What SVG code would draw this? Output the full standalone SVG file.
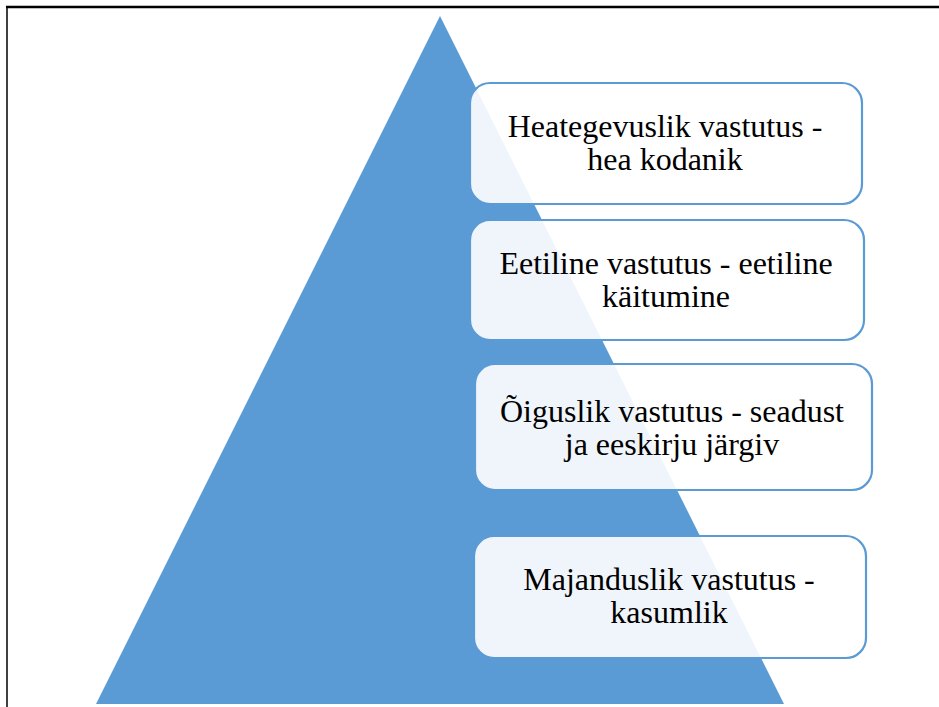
<svg xmlns="http://www.w3.org/2000/svg" width="939" height="707" viewBox="0 0 939 707">
  <style>
    .box { fill: #ffffff; fill-opacity: 0.9; stroke: #5B9BD5; stroke-width: 2.2; }
    .lbl { font-family: "Liberation Serif", "Times New Roman", serif; font-size: 32px; fill: #000000; text-anchor: middle; }
  </style>
  <rect x="0" y="0" width="939" height="707" fill="#ffffff"/>
  <g id="frame">
    <line x1="6" y1="7" x2="939" y2="7" stroke="#000" stroke-width="2.5"/>
    <line x1="7" y1="7" x2="7" y2="707" stroke="#000" stroke-width="1.5"/>
  </g>
  <g id="pyramid">
    <polygon points="440,16 784,704 96,704" fill="#5B9BD5"/>
  </g>
  <g id="connectors"></g>
  <g id="node-heategevuslik">
    <rect class="box" x="470" y="83" width="392" height="121" rx="20" ry="20"/>
    <text class="lbl" x="665" y="137">Heategevuslik vastutus -</text>
    <text class="lbl" x="665" y="170">hea kodanik</text>
  </g>
  <g id="node-eetiline">
    <rect class="box" x="470" y="220" width="394" height="120" rx="20" ry="20"/>
    <text class="lbl" x="666" y="274">Eetiline vastutus - eetiline</text>
    <text class="lbl" x="666" y="307">käitumine</text>
  </g>
  <g id="node-oiguslik">
    <rect class="box" x="475" y="364" width="397" height="126" rx="20" ry="20"/>
    <text class="lbl" x="672" y="422">Õiguslik vastutus - seadust</text>
    <text class="lbl" x="672" y="455">ja eeskirju järgiv</text>
  </g>
  <g id="node-majanduslik">
    <rect class="box" x="474" y="536" width="392" height="122" rx="20" ry="20"/>
    <text class="lbl" x="669" y="590">Majanduslik vastutus -</text>
    <text class="lbl" x="669" y="623">kasumlik</text>
  </g>
</svg>
